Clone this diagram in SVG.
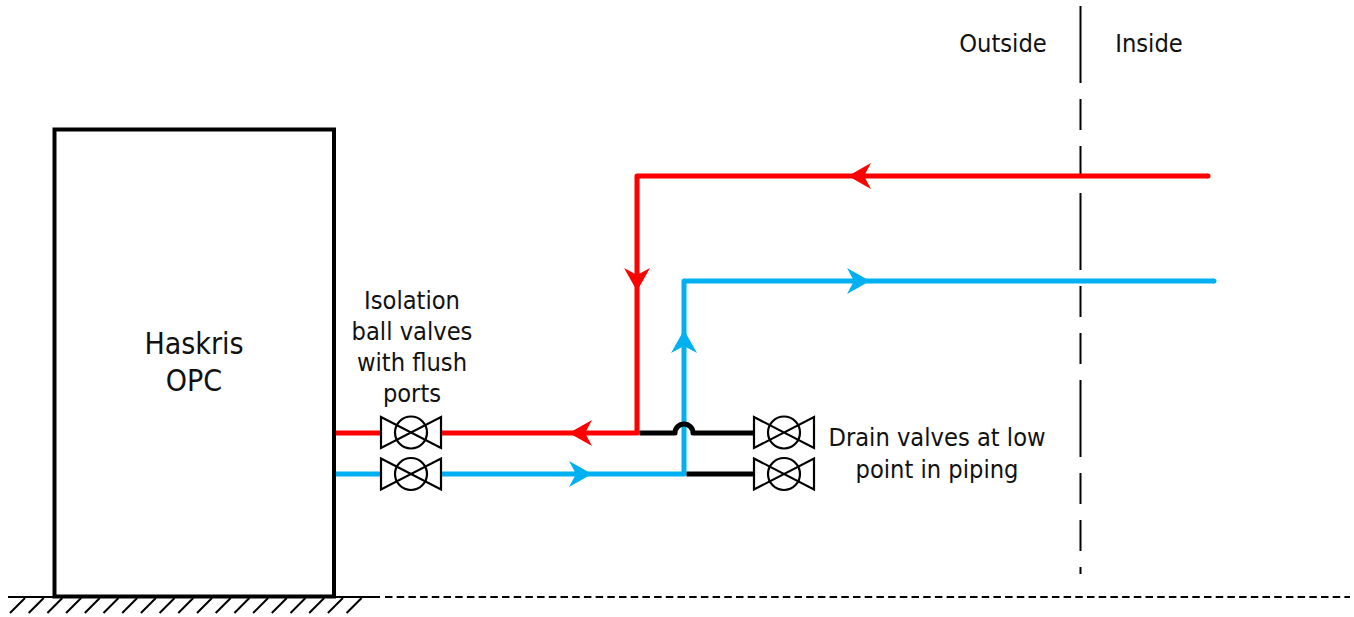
<svg xmlns="http://www.w3.org/2000/svg" xmlns:xlink="http://www.w3.org/1999/xlink" width="1354" height="617" viewBox="0 0 1354 617">
<style>
text{font-family:"DejaVu Sans Condensed","DejaVu Sans",sans-serif;fill:#111;text-anchor:middle}
.t{font-size:25.2px}.h{font-size:30px}
.pipe{fill:none;stroke-width:5;stroke-linejoin:round}
.red{stroke:#ff0000}.blue{stroke:#00b0f0}.blk{stroke:#000}
.ar-r{fill:#ff0000}.ar-b{fill:#00b0f0}
.v{fill:none;stroke:#000;stroke-width:2.2}
</style>
<defs>
<path id="ah" d="M0 0L-23-13L-16 0L-23 13Z"/>
<g id="valve"><path class="v" d="M-30-15.500L30 15.500V-15.500L-30 15.500Z"/><circle class="v" r="16"/></g>
</defs>
<rect width="1354" height="617" fill="#fff"/>
<g id="ground" fill="none" stroke="#000">
<path stroke-width="2.200" d="M8 597H380"/>
<path stroke-width="2" stroke-dasharray="7.500 4.200" d="M385 597H1350"/>
<path stroke-width="2" d="M25 598L10 613M43.700 598L28.700 613M62.400 598L47.400 613M81.100 598L66.100 613M99.800 598L84.800 613M118.500 598L103.500 613M137.200 598L122.200 613M155.900 598L140.900 613M174.600 598L159.600 613M193.300 598L178.300 613M212 598L197 613M230.700 598L215.700 613M249.400 598L234.400 613M268.100 598L253.100 613M286.800 598L271.800 613M305.500 598L290.500 613M324.200 598L309.200 613M342.900 598L327.900 613M361.600 598L346.600 613"/>
</g>
<g id="boundary"><path fill="none" stroke="#000" stroke-width="2" stroke-dasharray="77 16 31 16 31 16" d="M1080.500 6V574"/></g>
<g id="haskris-opc">
<rect x="54.500" y="129.500" width="279.500" height="467" fill="none" stroke="#000" stroke-width="4"/>
<text class="h" x="194" y="354">Haskris</text>
<text class="h" x="194" y="391">OPC</text>
</g>
<g id="connectors">
<path class="pipe red" d="M336 433H381M441 433H637V176H1208"/>
<circle class="ar-r" cx="1208" cy="176" r="2.500"/>
<path class="pipe blue" d="M336 474H381M441 474H684V281H1214"/>
<circle class="ar-b" cx="1214" cy="281" r="2.500"/>
<path class="pipe blk" d="M639.500 433H675A9 9 0 0 1 693 433H754M686.500 474H754"/>
<use xlink:href="#ah" href="#ah" class="ar-r" transform="translate(848 176) rotate(180)"/>
<use xlink:href="#ah" href="#ah" class="ar-r" transform="translate(637 291) rotate(90)"/>
<use xlink:href="#ah" href="#ah" class="ar-r" transform="translate(569 433) rotate(180)"/>
<use xlink:href="#ah" href="#ah" class="ar-b" transform="translate(870 281)"/>
<use xlink:href="#ah" href="#ah" class="ar-b" transform="translate(684 330) rotate(-90)"/>
<use xlink:href="#ah" href="#ah" class="ar-b" transform="translate(592 474)"/>
</g>
<g id="isolation-valve-red"><use xlink:href="#valve" href="#valve" transform="translate(411 432.500)"/></g>
<g id="isolation-valve-blue"><use xlink:href="#valve" href="#valve" transform="translate(411 474)"/></g>
<g id="drain-valve-red"><use xlink:href="#valve" href="#valve" transform="translate(784 432.500)"/></g>
<g id="drain-valve-blue"><use xlink:href="#valve" href="#valve" transform="translate(784 474)"/></g>
<g id="labels">
<text class="t" x="1003" y="52">Outside</text>
<text class="t" x="1149" y="52">Inside</text>
<text class="t" x="412" y="309">Isolation</text>
<text class="t" x="412" y="340">ball valves</text>
<text class="t" x="412" y="371">with flush</text>
<text class="t" x="412" y="402">ports</text>
<text class="t" x="937" y="446">Drain valves at low</text>
<text class="t" x="937" y="478">point in piping</text>
</g>
</svg>
